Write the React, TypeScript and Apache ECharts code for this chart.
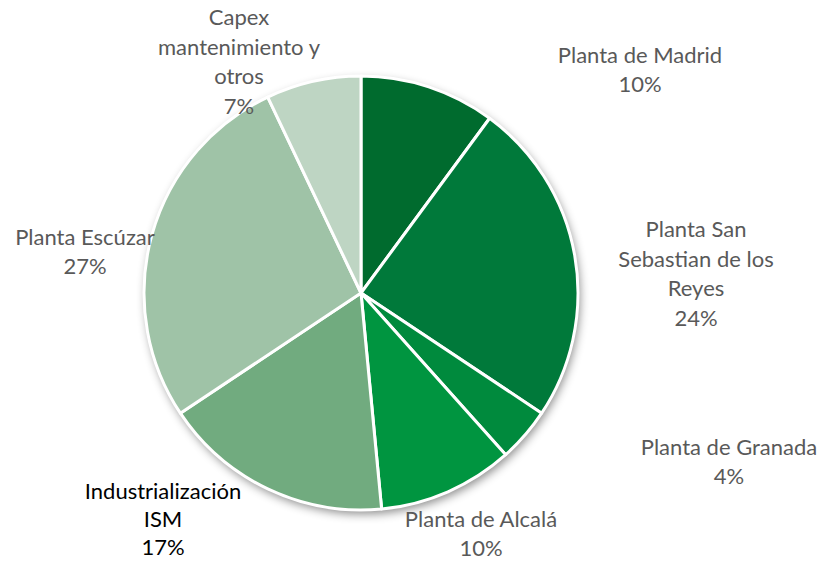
import React, { useEffect, useRef } from "react";
import * as echarts from "echarts";

const categories = [
  "Planta de Madrid",
  "Planta San Sebastian de los Reyes",
  "Planta de Granada",
  "Planta de Alcalá",
  "Industrialización ISM",
  "Planta Escúzar",
  "Capex mantenimiento y otros",
];
const labelText = [
  "Planta de Madrid",
  "Planta San\nSebastian de los\nReyes",
  "Planta de Granada",
  "Planta de Alcalá",
  "Industrialización\nISM",
  "Planta Escúzar",
  "Capex\nmantenimiento y\notros",
];
const shares = [10, 24, 4, 10, 17, 27, 7];
const colors = ["#006b2e", "#00793a", "#008a3d", "#009540", "#71ab7f", "#9fc3a7", "#bed5c3"];
const labelColors = ["#595959", "#595959", "#595959", "#595959", "#000000", "#595959", "#595959"];
const labelLineHeights = [29.5, 29.5, 29.5, 29.5, 28, 29.5, 29.5];
const labelPos: [number, number][] = [
  [640, 69],
  [696, 273],
  [729, 461],
  [481, 533],
  [163, 518],
  [85, 251],
  [239, 61],
];

export default function App() {
  const ref = useRef<HTMLDivElement>(null);
  useEffect(() => {
    if (!ref.current) return;
    const chart = echarts.init(ref.current, null, { renderer: "svg" });
    const total = shares.reduce((a, b) => a + b, 0);
    chart.setOption({
      animation: false,
      backgroundColor: "#ffffff",
      series: [
        {
          type: "pie",
          silent: true,
          center: [361, 293],
          radius: 217,
          z: 1,
          label: { show: false },
          labelLine: { show: false },
          itemStyle: {
            color: "#ffffff",
            shadowBlur: 10,
            shadowOffsetX: 2,
            shadowOffsetY: 4,
            shadowColor: "rgba(0,0,0,0.45)",
          },
          data: [{ name: "bg", value: total }],
        },
        {
          type: "pie",
          z: 2,
          center: [361, 293],
          radius: 217,
          startAngle: 90,
          clockwise: true,
          itemStyle: { borderColor: "#ffffff", borderWidth: 3 },
          labelLine: { show: false },
          label: {
            show: true,
            position: "outside",
            fontFamily: "Lato",
            fontSize: 22,
            lineHeight: 29.5,
            align: "center",
            overflow: "none",
            formatter: (p: any) => labelText[p.dataIndex] + "\n" + p.value + "%",
          },
          labelLayout: (params: any) => {
            const pos = labelPos[params.dataIndex];
            return { x: pos[0], y: pos[1], align: "center", verticalAlign: "middle" };
          },
          data: categories.map((c, i) => ({
            name: c,
            value: shares[i],
            itemStyle: { color: colors[i] },
            label: { color: labelColors[i], lineHeight: labelLineHeights[i] },
          })),
        },
      ],
    });
    return () => chart.dispose();
  }, []);
  return (
    <div
      ref={ref}
      style={{ position: "absolute", left: 0, top: 0, width: 821, height: 561 }}
    />
  );
}
